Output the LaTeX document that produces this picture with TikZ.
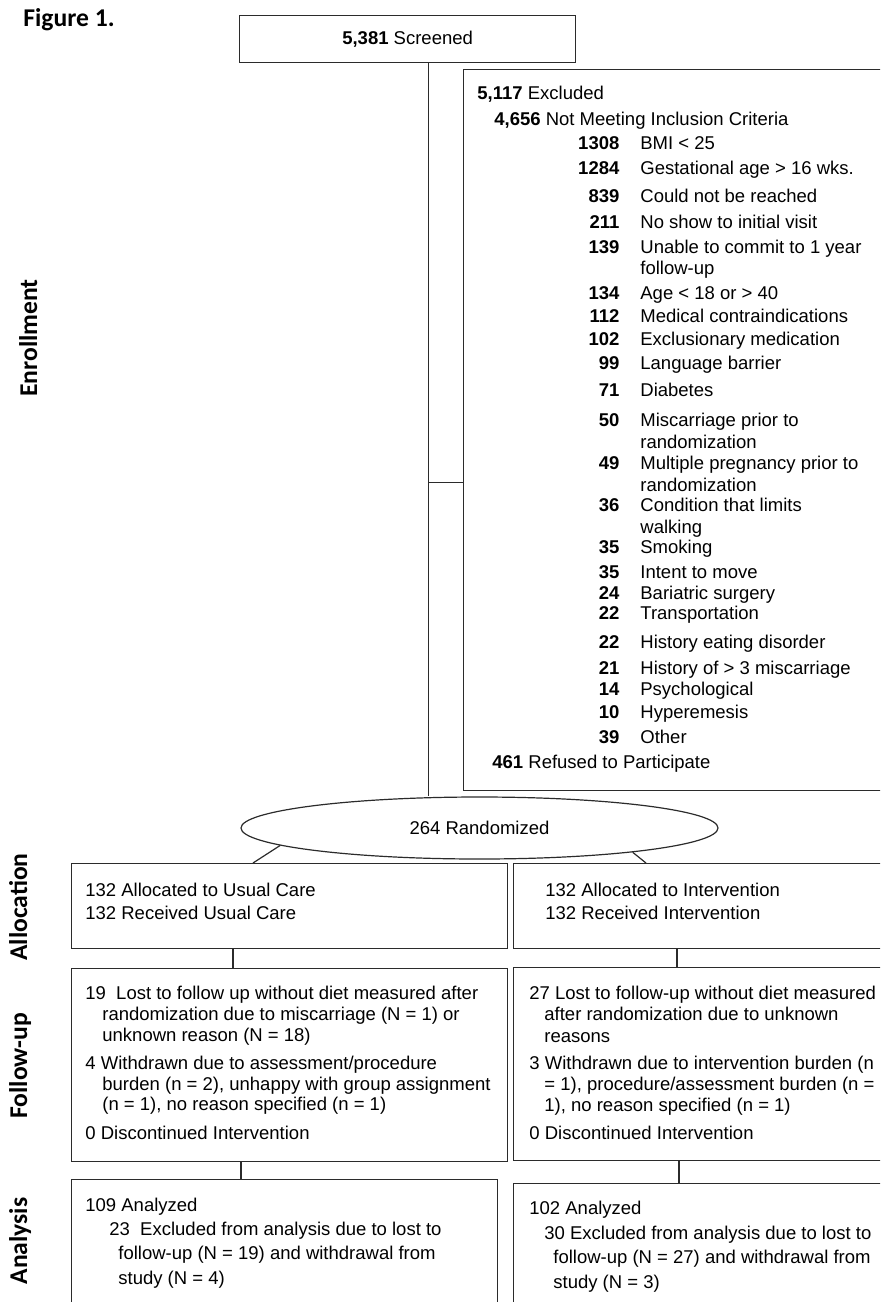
\documentclass[tikz,border=0pt]{standalone}
\usepackage{fontspec}
\setmainfont{Liberation Sans}
\newfontfamily\headfont{Carlito}
\usetikzlibrary{positioning,shapes.geometric}
\definecolor{Frame}{HTML}{2B2B2B}
\tikzset{
 flowbox/.style={draw=Frame, line width=0.6pt, anchor=north west, inner sep=0pt, font=\fontsize{9.25}{10}\selectfont},
 boxtext/.style={anchor=north west, align=left, inner sep=0pt, font=\fontsize{9.25}{10}\selectfont},
 sidelabel/.style={rotate=90, anchor=base, inner sep=0pt, font=\headfont\bfseries\fontsize{12.8}{14}\selectfont},
 link/.style={draw=Frame, line width=0.6pt}
}
\newcommand{\exitem}[2]{\makebox[71pt][r]{\bfseries #1}\hspace{10.5pt}#2}
\newcommand{\exmore}[1]{\hspace*{81.5pt}#1}

\begin{document}
\begin{tikzpicture}[x=0.5pt,y=-0.5pt]
\useasboundingbox (0,0) rectangle (880,1302);
\clip (0,0) rectangle (880,1302);

\node[anchor=base west, inner sep=0pt, font=\headfont\bfseries\fontsize{12.8}{14}\selectfont] (figlabel) at (23,26) {Figure 1.};

\node[sidelabel] (enrolllabel) at (37,338) {Enrollment};
\node[sidelabel] (alloclabel) at (27,907) {Allocation};
\node[sidelabel] (followlabel) at (27,1066) {Follow-up};
\node[sidelabel] (analabel) at (27,1241) {Analysis};

\node[flowbox, minimum width=168pt, minimum height=23.5pt] (screened) at (239,15) {\textbf{5,381} Screened};

\node[flowbox, minimum width=250pt, minimum height=360.5pt] (excluded) at (463,69) {};
\node[boxtext] (excludedtext) at (477,86) {
\textbf{5,117} Excluded\\[3pt]
\hspace*{8.5pt}\textbf{4,656} Not Meeting Inclusion Criteria\\[2pt]
\exitem{1308}{BMI < 25}\\[2.5pt]
\exitem{1284}{Gestational age > 16 wks.}\\[4pt]
\exitem{839}{Could not be reached}\\[3pt]
\exitem{211}{No show to initial visit}\\[2.5pt]
\exitem{139}{Unable to commit to 1 year}\\[0.5pt]
\exmore{follow-up}\\[2.5pt]
\exitem{134}{Age < 18 or > 40}\\[1.5pt]
\exitem{112}{Medical contraindications}\\[1.5pt]
\exitem{102}{Exclusionary medication}\\[2pt]
\exitem{99}{Language barrier}\\[3.5pt]
\exitem{71}{Diabetes}\\[5pt]
\exitem{50}{Miscarriage prior to}\\[1pt]
\exmore{randomization}\\[0.5pt]
\exitem{49}{Multiple pregnancy prior to}\\[1pt]
\exmore{randomization}\\[0pt]
\exitem{36}{Condition that limits}\\[1pt]
\exmore{walking}\\[0pt]
\exitem{35}{Smoking}\\[2.5pt]
\exitem{35}{Intent to move}\\[0.5pt]
\exitem{24}{Bariatric surgery}\\[0pt]
\exitem{22}{Transportation}\\[4.5pt]
\exitem{22}{History eating disorder}\\[3pt]
\exitem{21}{History of > 3 miscarriage}\\[0.5pt]
\exitem{14}{Psychological}\\[1.5pt]
\exitem{10}{Hyperemesis}\\[2.5pt]
\exitem{39}{Other}\\[2.5pt]
\hspace*{7.5pt}\textbf{461} Refused to Participate};

\node[ellipse, draw=Frame, line width=0.6pt, minimum width=238.5pt, minimum height=31pt, inner sep=0pt, font=\fontsize{9.25}{10}\selectfont] (rand) at (479.5,828) {264 Randomized};

\node[flowbox, minimum width=218pt, minimum height=42.5pt] (usualalloc) at (71,863) {};
\node[flowbox, minimum width=210pt, minimum height=42.5pt] (intalloc) at (513,863) {};
\node[boxtext] (usualalloctext) at (85,883) {132 Allocated to Usual Care\\[1.5pt]132 Received Usual Care};
\node[boxtext] (intalloctext) at (545,883) {132 Allocated to Intervention\\[1.5pt]132 Received Intervention};

\node[flowbox, minimum width=218pt, minimum height=96.5pt] (usualfollow) at (71,968) {};
\node[flowbox, minimum width=210pt, minimum height=96.5pt] (intfollow) at (513,967) {};
\node[boxtext] (usualfollowtext) at (85,986) {
19~ Lost to follow up without diet measured after\\[0.5pt]
\hspace*{8.5pt}randomization due to miscarriage (N = 1) or\\[0.5pt]
\hspace*{8.5pt}unknown reason (N = 18)\\[4pt]
4 Withdrawn due to assessment/procedure\\[0.5pt]
\hspace*{8.5pt}burden (n = 2), unhappy with group assignment\\[0pt]
\hspace*{8.5pt}(n = 1), no reason specified (n = 1)\\[4.5pt]
0 Discontinued Intervention};
\node[boxtext] (intfollowtext) at (529,986) {
27 Lost to follow-up without diet measured\\[0.5pt]
\hspace*{7.5pt}after randomization due to unknown\\[1pt]
\hspace*{7.5pt}reasons\\[3.5pt]
3 Withdrawn due to intervention burden (n\\[0.5pt]
\hspace*{7.5pt}= 1), procedure/assessment burden (n =\\[0.5pt]
\hspace*{7.5pt}1), no reason specified (n = 1)\\[4pt]
0 Discontinued Intervention};

\node[flowbox, minimum width=213pt, minimum height=100pt] (usualana) at (71,1179) {};
\node[flowbox, minimum width=210pt, minimum height=100pt] (intana) at (513,1183) {};
\node[boxtext] (usualanatext) at (85,1198) {
109 Analyzed\\[2pt]
\hspace*{12pt}23~ Excluded from analysis due to lost to\\[2pt]
\hspace*{16.5pt}follow-up (N = 19) and withdrawal from\\[2.5pt]
\hspace*{16.5pt}study (N = 4)};
\node[boxtext] (intanatext) at (529,1201) {
102 Analyzed\\[2.5pt]
\hspace*{7.5pt}30 Excluded from analysis due to lost to\\[2pt]
\hspace*{12pt}follow-up (N = 27) and withdrawal from\\[2.5pt]
\hspace*{12pt}study (N = 3)};

\coordinate (trunk) at ([xshift=10.5pt]screened.south);
\coordinate (branch) at ([yshift=-26.25pt]excluded.west);
\draw[link] (trunk) -- (trunk |- rand.north);
\draw[link] (trunk |- branch) -- (branch);
\draw[link] (rand.185) -- ([xshift=91pt]usualalloc.north west);
\draw[link] (rand.351) -- ([xshift=66.5pt]intalloc.north west);
\draw[link] ([xshift=81pt]usualalloc.south west) -- ([xshift=81pt]usualfollow.north west);
\draw[link] ([xshift=82pt]intalloc.south west) -- ([xshift=82pt]intfollow.north west);
\draw[link] ([xshift=85pt]usualfollow.south west) -- ([xshift=85pt]usualana.north west);
\draw[link] ([xshift=83pt]intfollow.south west) -- ([xshift=83pt]intana.north west);
\end{tikzpicture}
\end{document}
